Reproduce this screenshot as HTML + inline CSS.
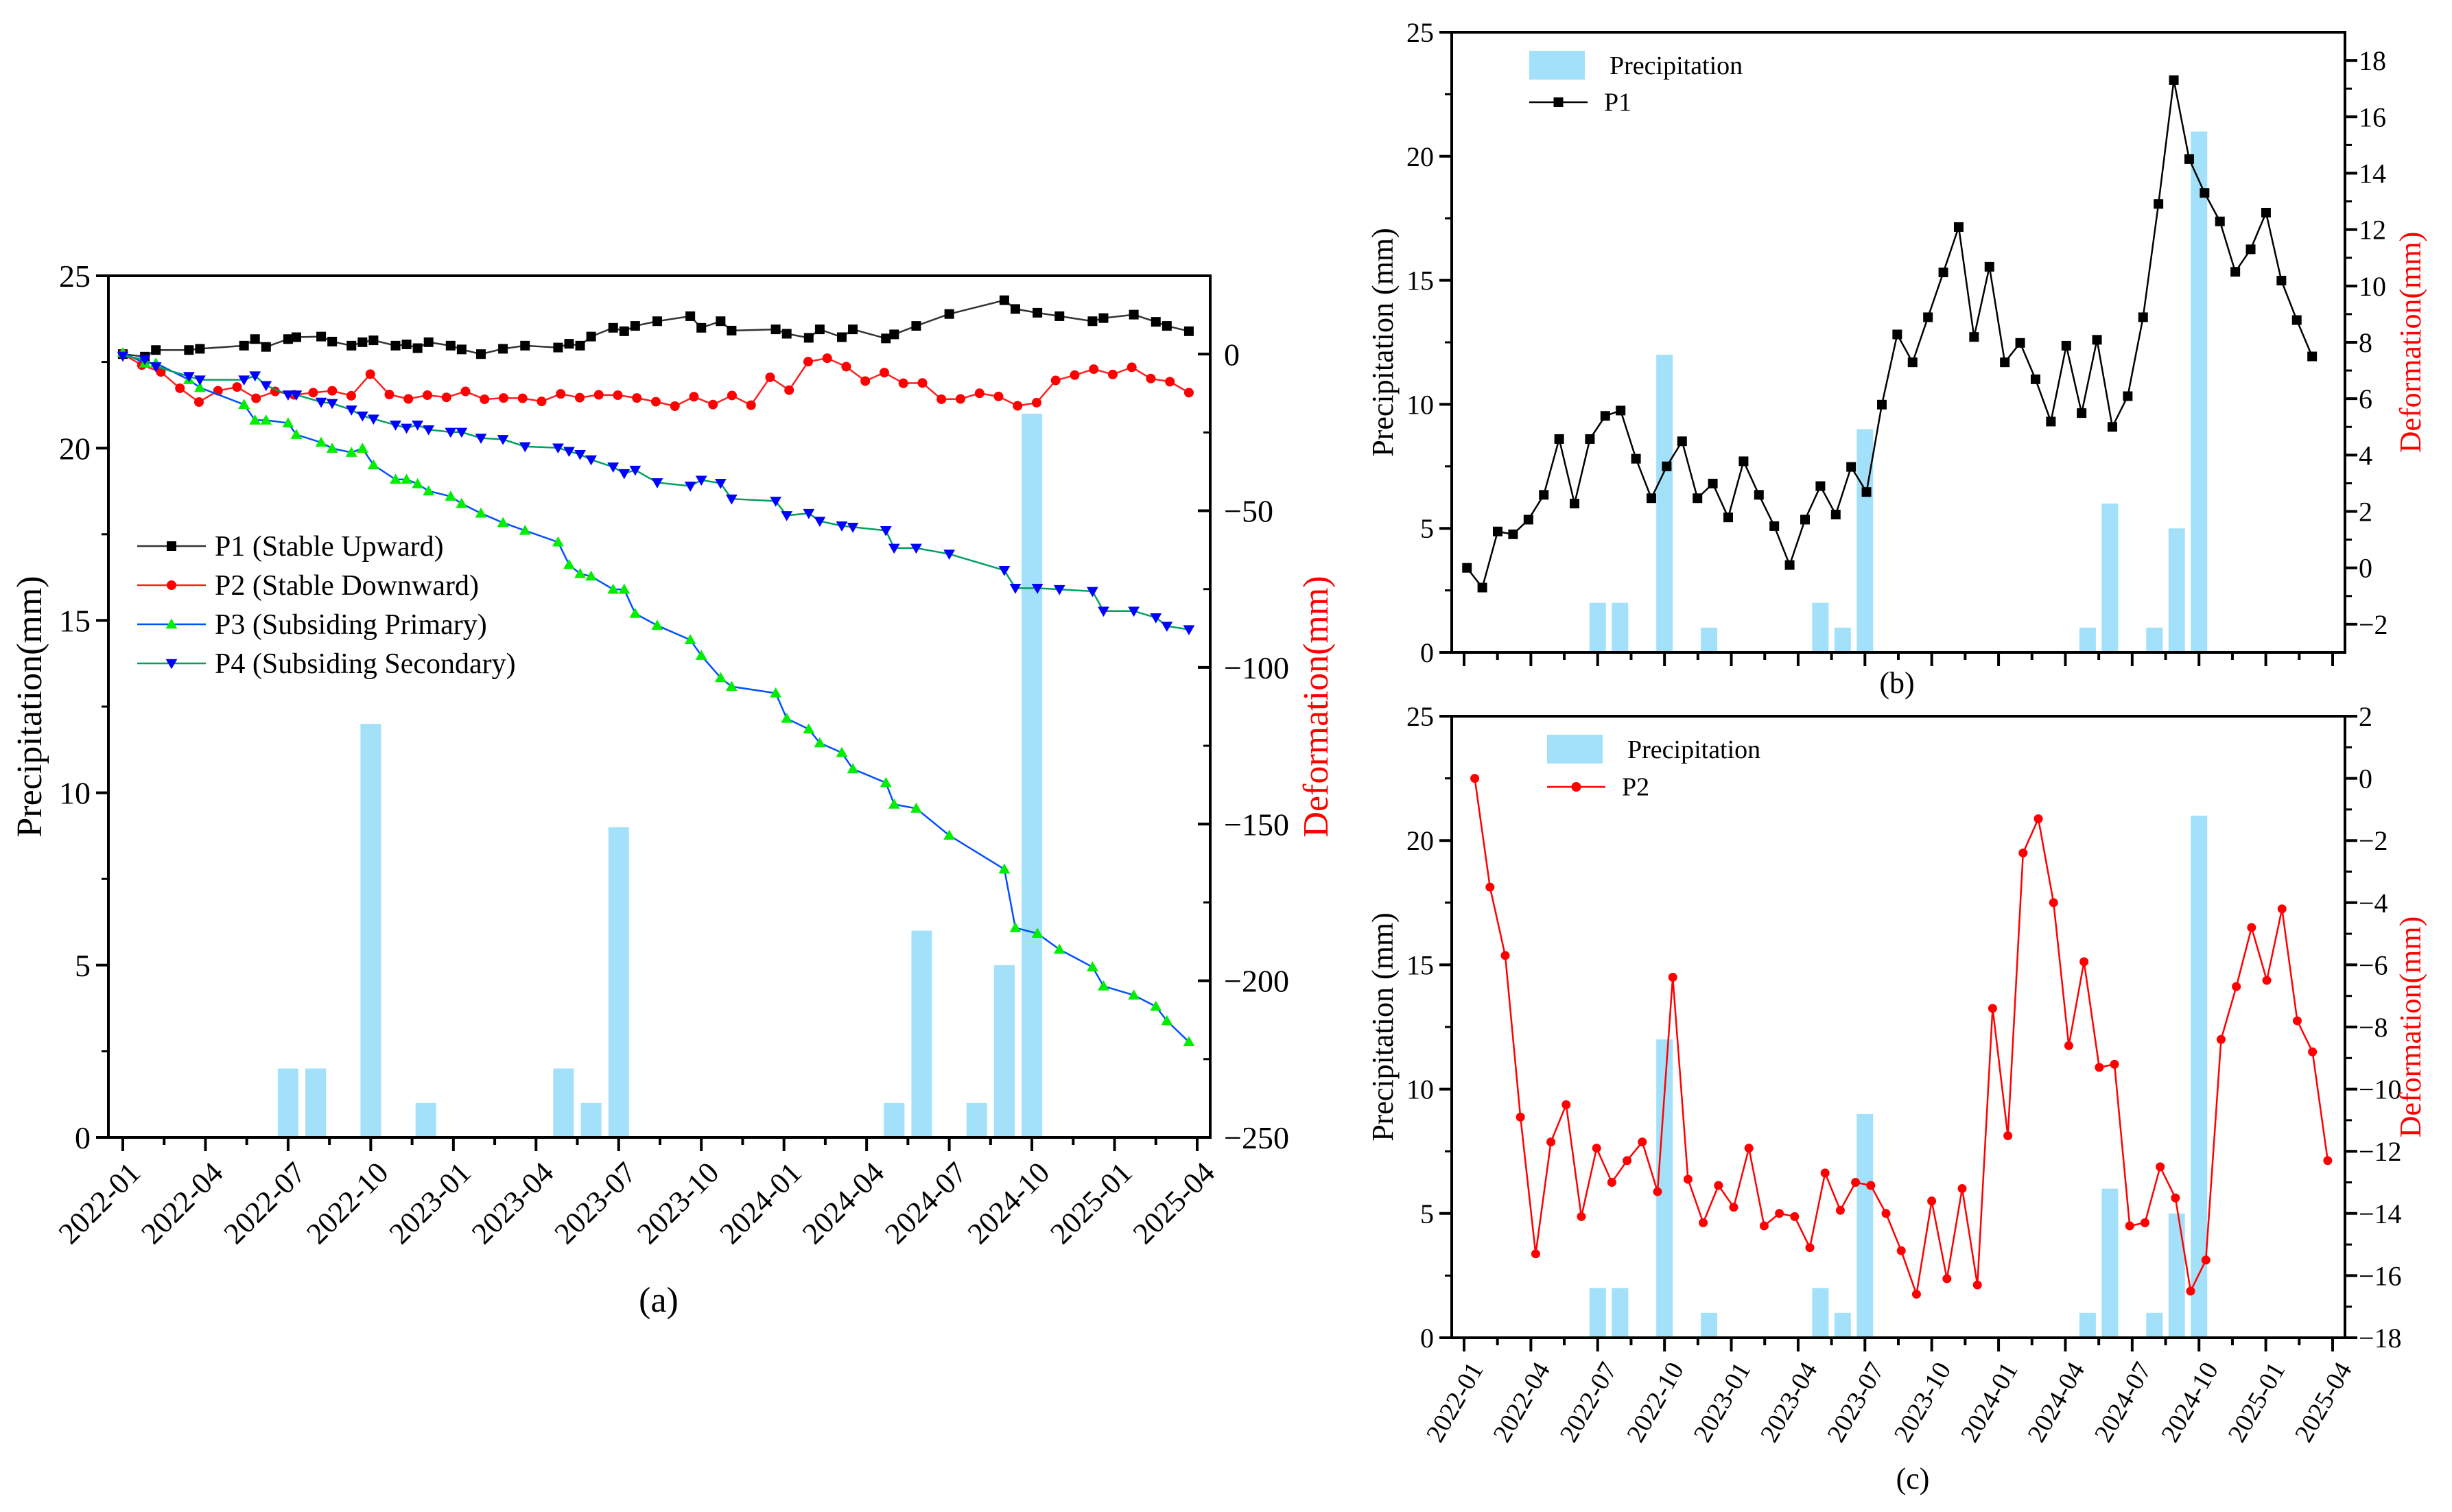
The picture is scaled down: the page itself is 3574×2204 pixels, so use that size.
<!DOCTYPE html>
<html><head><meta charset="utf-8">
<style>
html,body{margin:0;padding:0;background:#fff;}
svg{display:block;}
svg text{font-family:"Liberation Serif","Times New Roman",serif;}
</style></head>
<body>
<svg id="fig" width="3574" height="2204" viewBox="0 0 3574 2204" font-family="Liberation Serif, serif" xmlns="http://www.w3.org/2000/svg"></svg>
<script>
// ---------- DATA ----------
const monthLabels = ["2022-01","2022-04","2022-07","2022-10","2023-01","2023-04","2023-07","2023-10","2024-01","2024-04","2024-07","2024-10","2025-01","2025-04"];
const precipMonths = [6,7,9,11,16,17,18,28,29,31,32,33];
const precipValues = [2,2,12,1,2,1,9,1,6,1,5,21];
const precipTicks = [0,5,10,15,20,25];

// panel (a)
const aDates = [0,0.8,1.2,2.4,2.8,4.4,4.8,5.2,6.0,6.3,7.2,7.6,8.3,8.7,9.1,9.9,10.3,10.7,11.1,11.9,12.3,13.0,13.8,14.6,15.8,16.2,16.6,17.0,17.8,18.2,18.6,19.4,20.6,21.0,21.7,22.1,23.7,24.1,24.9,25.3,26.1,26.5,27.7,28.0,28.8,30.0,32.0,32.4,33.2,34.0,35.2,35.6,36.7,37.5,37.9,38.7];
const aP1 = [0,-0.8,1.3,1.3,1.7,2.7,4.8,2.3,4.8,5.4,5.6,4.0,2.7,3.8,4.4,2.7,3.1,1.9,3.8,2.7,1.5,0,1.7,2.7,2.1,3.3,2.7,5.6,8.4,7.3,9.0,10.5,12.1,8.4,10.5,7.5,7.9,6.5,5.2,7.9,5.4,7.9,5.0,6.3,9.0,12.8,17.2,14.4,13.2,12.1,10.5,11.5,12.6,10.3,9.0,7.3];
const aP3 = [0.4,-2.9,-2.9,-8.2,-10.7,-16.1,-21.1,-21.1,-22.0,-25.7,-28.2,-30.1,-31.4,-30.1,-35.4,-40.0,-40.0,-41.4,-43.7,-45.4,-47.7,-50.8,-53.8,-56.3,-60.0,-67.2,-70.1,-70.9,-75.1,-75.1,-82.8,-86.6,-91.2,-96.2,-103.3,-106.1,-108.2,-116.3,-119.7,-124.1,-127.2,-132.4,-136.8,-143.7,-145.0,-153.6,-164.4,-183.1,-184.9,-190.0,-195.6,-201.7,-204.6,-208.2,-212.8,-219.5];
const aP4 = [-0.6,-1.7,-4.0,-7.1,-8.2,-8.2,-6.9,-10.0,-13.0,-13.0,-15.3,-15.7,-17.8,-19.7,-20.7,-22.6,-23.6,-22.6,-24.1,-24.9,-24.9,-26.8,-27.2,-29.5,-29.9,-31.0,-32.0,-33.7,-36.0,-38.1,-37.0,-41.0,-42.1,-40.2,-41.2,-46.2,-46.9,-51.5,-50.8,-53.3,-54.8,-55.2,-56.3,-61.9,-61.9,-63.8,-69.0,-74.7,-74.7,-75.1,-75.7,-82.0,-82.0,-84.1,-86.8,-87.9];
const aDefTicks = [0,-50,-100,-150,-200,-250];

// panel (b) P1
const bP1 = [0.0,-0.7,1.29,1.19,1.71,2.59,4.57,2.28,4.57,5.39,5.58,3.87,2.47,3.60,4.49,2.47,2.99,1.79,3.78,2.59,1.48,0.10,1.71,2.90,1.89,3.58,2.69,5.79,8.28,7.29,8.89,10.48,12.09,8.19,10.68,7.29,7.98,6.69,5.19,7.88,5.49,8.09,5.00,6.09,8.89,12.91,17.30,14.50,13.30,12.29,10.50,11.30,12.60,10.19,8.79,7.50];
const bDefTicks = [-2,0,2,4,6,8,10,12,14,16,18];

// panel (c) P2
const cP2 = [0.0,-3.5,-5.7,-10.9,-15.3,-11.7,-10.5,-14.1,-11.9,-13.0,-12.3,-11.7,-13.3,-6.4,-12.9,-14.3,-13.1,-13.8,-11.9,-14.4,-14.0,-14.1,-15.1,-12.7,-13.9,-13.0,-13.1,-14.0,-15.2,-16.6,-13.6,-16.1,-13.2,-16.3,-7.4,-11.5,-2.4,-1.3,-4.0,-8.6,-5.9,-9.3,-9.2,-14.4,-14.3,-12.5,-13.5,-16.5,-15.5,-8.4,-6.7,-4.8,-6.5,-4.2,-7.8,-8.8,-12.3];
const cDefTicks = [2,0,-2,-4,-6,-8,-10,-12,-14,-16,-18];

// ---------- DRAWING ----------
const NS="http://www.w3.org/2000/svg";
const svg=document.getElementById('fig');
function mk(tag,attrs,parent,text){const e=document.createElementNS(NS,tag);for(const k in attrs)e.setAttribute(k,attrs[k]);if(tag==='text')e.setAttribute('font-family','Liberation Serif, serif');if(text!==undefined)e.textContent=text;(parent||svg).appendChild(e);return e;}
function fmt(v){return v<0?"\u2212"+Math.abs(v):String(v);}

function panel(P){
  const g=mk('g',{});
  
  
  const X=m=>P.mx0+m*(P.mx1-P.mx0)/39;
  const YL=v=>P.y1-(v/25)*(P.y1-P.y0);
  const YR=v=>P.y1-(v-P.rmin)/(P.rmax-P.rmin)*(P.y1-P.y0);
  const bw=P.bw;
  precipMonths.forEach((m,i)=>{
    const b=mk('rect',{x:X(m)-bw/2,y:YL(precipValues[i]),width:bw,height:YL(0)-YL(precipValues[i]),fill:'#a3e1fa'},g);
    
    
  });
  P.series.forEach(s=>{
    const pts=s.vals.map((v,i)=>[X(s.dates(i)),YR(v)]);
    const l=mk('polyline',{points:pts.map(p=>p.join(',')).join(' '),fill:'none',stroke:s.line,'stroke-width':P.lw},g);
    
    
    pts.forEach(p=>{
      const mrk=marker(s.shape,p[0],p[1],P.ms,s.mfill,g);
      
      
    });
  });
  const fr=mk('rect',{x:P.x0,y:P.y0,width:P.x1-P.x0,height:P.y1-P.y0,fill:'none',stroke:'#000','stroke-width':4},g);
  
  
  precipTicks.forEach(v=>{
    mk('line',{x1:P.x0-18,x2:P.x0,y1:YL(v),y2:YL(v),stroke:'#000','stroke-width':4},g);
    if(v<25) mk('line',{x1:P.x0-10,x2:P.x0,y1:YL(v+2.5),y2:YL(v+2.5),stroke:'#000','stroke-width':3},g);
    const t=mk('text',{x:P.x0-26,y:YL(v)+P.fs*0.35,'text-anchor':'end','font-size':P.fs},g,String(v));
    
    
  });
  const dir=P.rin?-1:1;
  P.rticks.forEach((v,i)=>{
    mk('line',{x1:P.x1,x2:P.x1+dir*18,y1:YR(v),y2:YR(v),stroke:'#000','stroke-width':4},g);
    const step=P.rticks.length>1?Math.abs(P.rticks[1]-P.rticks[0]):1;
    const mid=v-step/2;
    if(mid>P.rmin) mk('line',{x1:P.x1,x2:P.x1+dir*10,y1:YR(mid),y2:YR(mid),stroke:'#000','stroke-width':3},g);
    const t=mk('text',{x:P.x1+20,y:YR(v)+P.fs*0.35,'text-anchor':'start','font-size':P.fs},g,fmt(v));
    
    
  });
  for(let k=0;k<=26;k++){
    const m=k*1.5, major=k%2===0;
    mk('line',{x1:X(m),x2:X(m),y1:P.y1,y2:P.y1+(major?20:11),stroke:'#000','stroke-width':4},g);
    if(major&&P.xlab){
      const xx=X(m)+6, yy=P.y1+32;
      const t=mk('text',{x:xx,y:yy,'text-anchor':'end','font-size':P.xfs,transform:`rotate(${P.xrot} ${xx} ${yy})`,'dominant-baseline':'hanging'},g,monthLabels[k/2]);
      
      
    }
  }
  const cy=(P.y0+P.y1)/2;
  const lt=mk('text',{x:P.ltx,y:cy,'text-anchor':'middle','font-size':P.tfs,transform:`rotate(-90 ${P.ltx} ${cy})`},g,P.ltitle);
  
  
  const rt=mk('text',{x:P.rtx,y:cy,'text-anchor':'middle','font-size':P.tfs,fill:'#ff0000',transform:`rotate(-90 ${P.rtx} ${cy})`},g,'Deformation(mm)');
  
  
  const cap=mk('text',{x:P.capx,y:P.capy,'text-anchor':'middle','font-size':P.tfs},g,P.cap);
  
  
  return g;
}
function marker(shape,x,y,s,fill,g){
  if(shape==='sq') return mk('rect',{x:x-s/2,y:y-s/2,width:s,height:s,fill:fill},g);
  if(shape==='ci') return mk('circle',{cx:x,cy:y,r:s/2,fill:fill},g);
  if(shape==='up') return mk('polygon',{points:`${x},${y-s*0.6} ${x-s*0.6},${y+s*0.45} ${x+s*0.6},${y+s*0.45}`,fill:fill},g);
  return mk('polygon',{points:`${x},${y+s*0.6} ${x-s*0.6},${y-s*0.45} ${x+s*0.6},${y-s*0.45}`,fill:fill},g);
}

const aD=i=>aDates[i];
panel({name:'panel-a',x0:158,x1:1764,y0:402,y1:1658,mx0:179,mx1:1745,rmin:-250,rmax:25,rticks:aDefTicks,rin:true,
  bw:30,lw:2.5,ms:14,fs:46,xfs:44,xrot:-45,xlab:true,tfs:52,ltx:60,rtx:1935,ltitle:'Precipitation(mm)',cap:'(a)',capx:960,capy:1912,
  series:[
    {id:'p1',vals:aP1,dates:aD,line:'#333',mfill:'#000',shape:'sq'},
    {id:'p2',vals:cP2,dates:i=>i*38.7/56,line:'#ff2020',mfill:'#ff0000',shape:'ci'},
    {id:'p3',vals:aP3,dates:aD,line:'#0050ff',mfill:'#00ee00',shape:'up'},
    {id:'p4',vals:aP4,dates:aD,line:'#00a060',mfill:'#0000ff',shape:'dn'}
  ]});
panel({name:'panel-b',x0:2116,x1:3418,y0:47,y1:951,mx0:2134,mx1:3400,rmin:-3,rmax:19,rticks:bDefTicks,rin:false,
  bw:24,lw:2.5,ms:14,fs:40,xfs:38,xrot:-45,xlab:false,tfs:44,ltx:2030,rtx:3528,ltitle:'Precipitation (mm)',cap:'(b)',capx:2765,capy:1010,
  series:[{id:'p1-b',vals:bP1,dates:i=>0.13+i*0.69,line:'#000',mfill:'#000',shape:'sq'}]});
panel({name:'panel-c',x0:2116,x1:3418,y0:1044,y1:1950,mx0:2134,mx1:3400,rmin:-18,rmax:2,rticks:cDefTicks,rin:false,
  bw:24,lw:2.5,ms:13,fs:40,xfs:38,xrot:-60,xlab:true,tfs:44,ltx:2030,rtx:3528,ltitle:'Precipitation (mm)',cap:'(c)',capx:2788,capy:2170,
  series:[{id:'p2-c',vals:cP2,dates:i=>0.48+i*(38.3/56),line:'#ff0000',mfill:'#ff0000',shape:'ci'}]});

// ---------- LEGENDS ----------
function legendLine(x1,x2,y,col,shape,mfill,tx,label,fs,name){
  const g=mk('g',{});
  
  
  mk('line',{x1:x1,x2:x2,y1:y,y2:y,stroke:col,'stroke-width':2.5},g);
  marker(shape,(x1+x2)/2,y,14,mfill,g);
  mk('text',{x:tx,y:y+fs*0.33,'font-size':fs},g,label);
}
legendLine(200,300,796,'#333','sq','#000',313,'P1 (Stable Upward)',42,'legend-entry-p1');
legendLine(200,300,853,'#ff2020','ci','#ff0000',313,'P2 (Stable Downward)',42,'legend-entry-p2');
legendLine(200,300,910,'#0050ff','up','#00ee00',313,'P3 (Subsiding Primary)',42,'legend-entry-p3');
legendLine(200,300,967,'#00a060','dn','#0000ff',313,'P4 (Subsiding Secondary)',42,'legend-entry-p4');

function legendBar(x,y,w,h,tx,name){
  const g=mk('g',{});
  
  
  mk('rect',{x:x,y:y,width:w,height:h,fill:'#a3e1fa'},g);
  mk('text',{x:tx,y:y+h/2+13,'font-size':38},g,'Precipitation');
}
legendBar(2229,74,81,42,2346,'legend-precipitation-b');
legendLine(2229,2314,149,'#000','sq','#000',2338,'P1',38,'legend-entry-p1-b');
legendBar(2255,1071,81,42,2372,'legend-precipitation-c');
legendLine(2255,2340,1147,'#ff0000','ci','#ff0000',2364,'P2',38,'legend-entry-p2-c');
</script>
</body></html>
